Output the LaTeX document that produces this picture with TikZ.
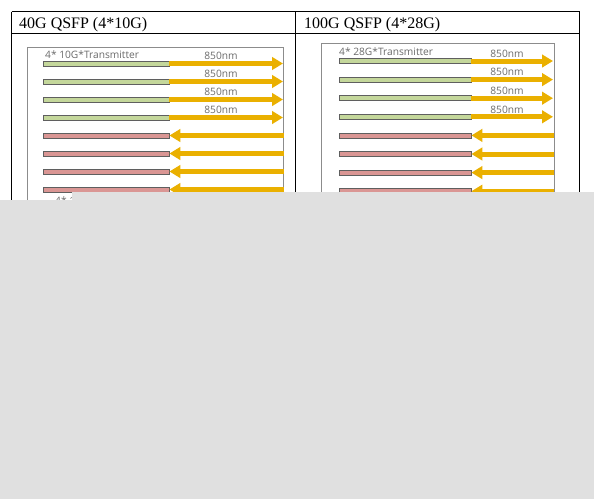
\documentclass[tikz,border=0pt]{standalone}
\usepackage{fontspec}
\setmainfont{Liberation Serif}
\newfontfamily\osans{Open Sans}
\usetikzlibrary{arrows.meta}
\definecolor{arrowor}{HTML}{EAB000}
\definecolor{barg}{HTML}{C4D79B}
\definecolor{barr}{HTML}{DA9694}
\definecolor{barline}{HTML}{5F5F5F}
\definecolor{frameg}{HTML}{8C8C8C}
\definecolor{txtg}{HTML}{6B6B6B}
\definecolor{cover}{HTML}{E0E0E0}
\tikzset{
  gbar/.style={draw=barline, fill=barg, line width=0.8pt, inner sep=0pt, minimum height=5pt},
  rbar/.style={draw=barline, fill=barr, line width=0.8pt, inner sep=0pt, minimum height=5pt},
  lightarrow/.style={draw=arrowor, line width=5pt, -{Triangle[length=11pt,width=12.5pt]}},
  wl/.style={font=\osans\fontsize{10.2}{12}\selectfont, text=txtg, inner sep=0pt, anchor=base},
  caption/.style={font=\osans\fontsize{10.2}{12}\selectfont, text=txtg, inner sep=0pt, anchor=base west},
  header/.style={font=\fontsize{16}{19}\selectfont, inner sep=0pt, anchor=base west},
  tableline/.style={draw=black, line width=1pt},
  panelframe/.style={draw=frameg, line width=1pt}
}
\begin{document}
\begin{tikzpicture}[x=1pt,y=-1pt]
\useasboundingbox (0,0) rectangle (594,498);
\fill[white] (0,0) rectangle (594,498);
% table
\draw[tableline] (11.5,11.5) -- (579.5,11.5);
\draw[tableline] (11.5,33.5) -- (579.5,33.5);
\draw[tableline] (11.5,11.5) -- (11.5,300);
\draw[tableline] (295.5,11.5) -- (295.5,300);
\draw[tableline] (579.5,11.5) -- (579.5,300);
\node[header] (h1) at (19,28) {40G QSFP (4*10G)};
\node[header] (h2) at (304,28) {100G QSFP (4*28G)};
% left panel
\draw[panelframe] (27,300) -- (27,47) -- (283,47) -- (283,300);
\node[caption] (lt) at (45,58) {4* 10G*Transmitter};
\foreach \i/\y in {1/63.5,2/81.5,3/99.5,4/117.5}{
  \node[gbar, minimum width=126pt] (L\i) at (106,\y) {};
  \coordinate (LE\i) at (283,\y);
  \draw[lightarrow] (L\i.east) -- (LE\i);
  \node[wl] (Ln\i) at (221,\y-4) {850nm};
}
\foreach \i/\y in {5/135.5,6/153.5,7/171.5,8/189.5}{
  \node[rbar, minimum width=126pt] (L\i) at (106,\y) {};
  \coordinate (LE\i) at (284,\y);
  \draw[lightarrow] (LE\i) -- (L\i.east);
}
\node[caption] (lr) at (55,204) {4* 10G*Receiver};
% right panel
\draw[panelframe] (321,300) -- (321,43) -- (554,43) -- (554,300);
\node[caption] (rt) at (339,55) {4* 28G*Transmitter};
\foreach \i/\y in {1/61,2/79.6,3/98.2,4/116.8}{
  \node[gbar, minimum width=132pt] (R\i) at (405,\y) {};
  \coordinate (RE\i) at (553,\y);
  \draw[lightarrow] (R\i.east) -- (RE\i);
  \node[wl] (Rn\i) at (507,\y-3.7) {850nm};
}
\foreach \i/\y in {5/135.4,6/154,7/172.6,8/191.2}{
  \node[rbar, minimum width=132pt] (R\i) at (405,\y) {};
  \coordinate (RE\i) at (554,\y);
  \draw[lightarrow] (RE\i) -- (R\i.east);
}
% grey cover
\fill[cover] (-5,200) -- (72,200) -- (72,192) -- (600,192) -- (600,505) -- (-5,505) -- cycle;
\end{tikzpicture}
\end{document}
